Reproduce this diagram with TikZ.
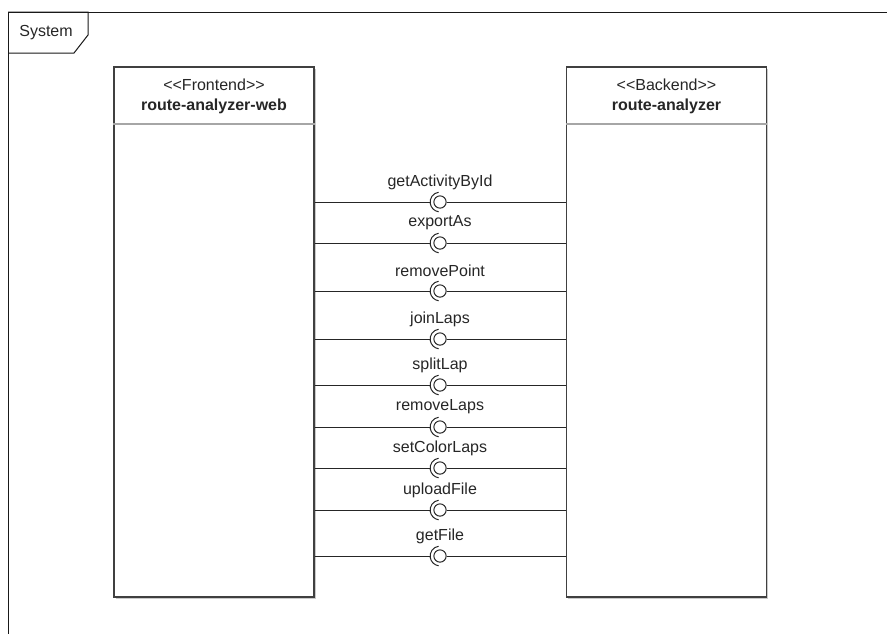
\documentclass[tikz,border=0pt]{standalone}
\usepackage{fontspec}
\setmainfont{Liberation Sans}
\usetikzlibrary{shadows}
\begin{document}
\begin{tikzpicture}[x=0.75pt,y=-0.75pt,
  every node/.style={font=\fontsize{12pt}{14pt}\selectfont, text=black!85, inner sep=0pt},
  frameline/.style={draw=black!90, line width=0.75pt},
  comp/.style={draw=black!75, line width=0.9pt, fill=white, minimum width=150pt, minimum height=397.5pt,
    drop shadow={shadow xshift=1.2pt, shadow yshift=-1.2pt, fill=black!35, opacity=0.6}},
  sep/.style={draw=black!35, line width=0.9pt},
  conn/.style={draw=black!85, line width=0.75pt},
  ball/.style={circle, draw=black!85, line width=0.75pt, fill=white, minimum size=9.2pt},
  socket/.style={draw=black!85, line width=0.75pt}
]
\useasboundingbox (0,0) rectangle (887,633);
% frame
\draw[frameline] (8,640) -- (8,12) -- (890,12);
\draw[frameline] (8,12) -- (88,12) -- (88,35) -- (74,53) -- (8,53);
\node (sys) at (46,33) {System};
% components
\node[comp] (fe) at (214,332) {};
\node[comp] (be) at (666.5,332) {};
\draw[sep] (fe.west |- 0,124) -- (fe.east |- 0,124);
\draw[sep] (be.west |- 0,124) -- (be.east |- 0,124);
\node (fest) at (214,85) {<{}<Frontend>{}>};
\node[font=\fontsize{12pt}{14pt}\selectfont\bfseries] (fenm) at (214,106.5) {route-analyzer-web};
\node (best) at (666.5,85) {<{}<Backend>{}>};
\node[font=\fontsize{12pt}{14pt}\selectfont\bfseries] (benm) at (666.5,106.5) {route-analyzer};
% interfaces
\foreach \i/\lbl/\yy in {1/getActivityById/202, 2/exportAs/243, 3/removePoint/291, 4/joinLaps/339,
  5/splitLap/385, 6/removeLaps/427, 7/setColorLaps/468, 8/uploadFile/510, 9/getFile/556}{
  \node (l\i) at (440,\yy-20) {\lbl};
  \node[ball] (b\i) at (440,\yy) {};
  \draw[socket] ([shift={(98:7.4pt)}]b\i.center) arc[start angle=98, end angle=262, radius=7.4pt];
  \coordinate (s\i) at ([xshift=-7.4pt]b\i.center);
  \draw[conn] (fe.east |- b\i) -- (s\i);
  \draw[conn] (b\i.east) -- (be.west |- b\i);
}
\end{tikzpicture}
\end{document}
